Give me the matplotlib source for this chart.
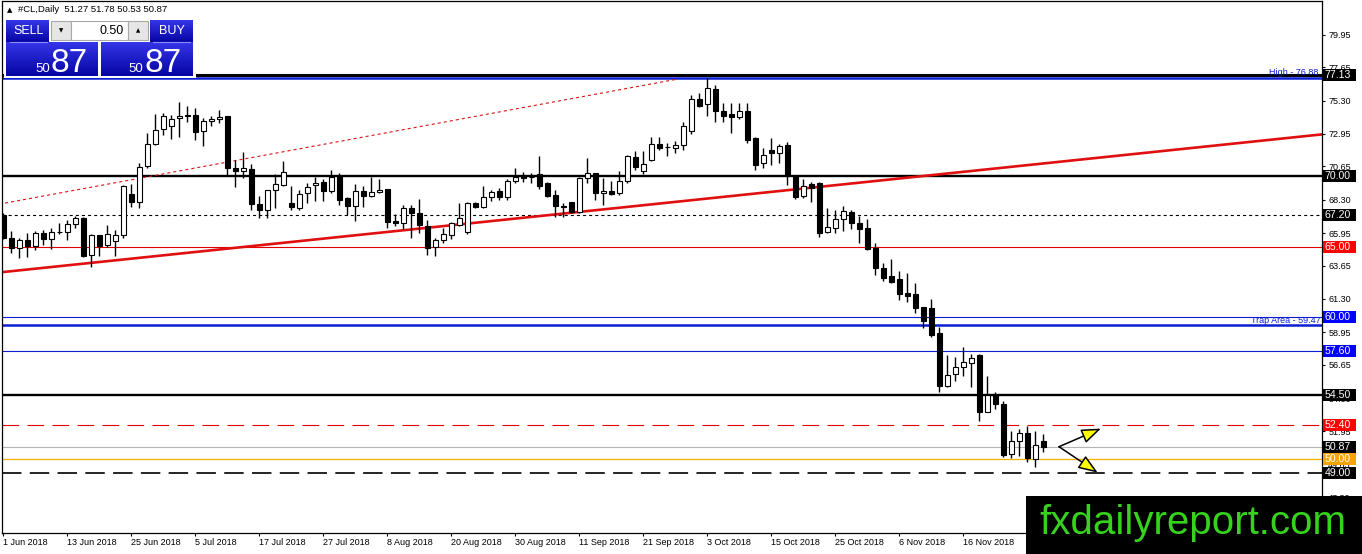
import matplotlib
matplotlib.use("Agg")
import matplotlib.pyplot as plt
import matplotlib.transforms as mtrans
from matplotlib.patches import Rectangle, FancyArrowPatch
from matplotlib.colors import LinearSegmentedColormap
import numpy as np

plt.rcParams['font.family'] = ['Liberation Sans', 'DejaVu Sans']
plt.rcParams['lines.scale_dashes'] = False

# ---------------- data ----------------
opens = [67.25, 65.6, 64.9, 65.48, 65.06, 65.95, 65.53, 66.0, 66.0, 66.59,
         67.01, 64.38, 65.79, 65.13, 65.36, 65.84, 68.71, 68.12, 70.66, 72.24,
         73.29, 73.48, 74.07, 74.3, 74.3, 73.13, 73.84, 74.0, 74.24, 70.54,
         70.31, 70.49, 68.0, 67.55, 68.96, 69.32, 68.07, 67.72, 68.78, 69.32,
         69.58, 68.94, 69.98, 68.4, 67.86, 68.94, 68.59, 68.82, 69.06, 66.8,
         66.68, 67.69, 67.34, 66.45, 64.94, 65.46, 65.81, 66.52, 66.05, 68.1,
         67.81, 68.52, 68.94, 68.47, 69.65, 69.96, 69.93, 70.12, 69.46, 68.63,
         67.84, 68.12, 67.46, 69.81, 70.16, 68.75, 68.92, 68.75, 69.65, 71.3,
         70.35, 71.11, 72.23, 72.0, 71.93, 72.16, 73.17, 75.39, 75.04, 76.11,
         74.59, 74.33, 74.12, 74.59, 72.64, 70.92, 71.81, 71.62, 72.16, 69.97,
         68.57, 69.39, 69.46, 66.05, 66.28, 66.92, 67.46, 66.64, 66.29, 64.87,
         63.46, 62.94, 62.68, 61.7, 61.62, 60.71, 60.68, 58.87, 55.18, 56.0,
         56.53, 56.76, 57.35, 53.35, 54.52, 53.89, 50.35, 51.29, 51.86, 50.0,
         51.27]
highs = [67.35, 66.07, 65.6, 65.95, 66.07, 66.19, 66.3, 66.66, 66.85, 67.18,
         67.06, 65.9, 65.84, 66.49, 66.14, 69.36, 69.41, 70.89, 73.01, 74.35,
         74.42, 74.31, 75.2, 74.9, 74.78, 74.07, 74.19, 74.61, 74.24, 71.13,
         71.65, 70.85, 68.54, 69.01, 70.12, 71.06, 69.25, 69.01, 69.48, 69.91,
         69.76, 70.4, 70.16, 68.52, 69.41, 69.27, 69.93, 69.74, 69.06, 67.29,
         67.93, 67.93, 68.33, 66.87, 65.58, 66.28, 66.75, 68.05, 68.16, 68.16,
         69.27, 68.99, 69.11, 69.74, 70.52, 70.28, 70.16, 71.39, 69.58, 68.99,
         68.05, 68.16, 69.93, 71.22, 70.21, 69.81, 69.65, 70.35, 71.46, 71.77,
         71.75, 72.75, 72.75, 72.33, 72.47, 73.81, 75.7, 75.86, 76.88, 76.4,
         75.16, 75.16, 75.16, 75.11, 72.75, 71.93, 72.63, 72.23, 72.4, 70.05,
         69.74, 69.58, 69.58, 67.69, 67.58, 67.86, 67.58, 67.16, 66.92, 65.27,
         63.86, 64.1, 63.27, 63.11, 62.4, 60.71, 61.27, 59.34, 57.35, 57.2,
         57.94, 57.41, 57.41, 55.88, 54.76, 54.12, 52.0, 52.09, 52.33, 51.95,
         51.78]
lows = [65.5, 64.54, 64.19, 64.26, 64.78, 65.13, 64.82, 65.9, 65.48, 66.3,
        64.26, 63.55, 64.31, 64.96, 64.31, 65.6, 67.76, 67.72, 70.54, 72.14,
        72.89, 72.59, 72.73, 73.8, 72.54, 72.07, 73.53, 73.72, 70.07, 69.2,
        69.84, 67.55, 67.01, 67.01, 67.72, 69.25, 67.55, 67.55, 68.07, 68.19,
        68.19, 68.75, 67.93, 67.22, 66.82, 67.81, 68.47, 68.75, 66.28, 66.45,
        66.21, 65.62, 65.93, 64.4, 64.33, 65.22, 65.51, 66.45, 65.88, 67.69,
        67.74, 68.24, 68.28, 68.28, 69.51, 69.58, 69.51, 69.04, 68.52, 67.1,
        67.1, 67.34, 67.34, 69.46, 68.28, 67.93, 68.63, 68.63, 69.51, 70.4,
        70.1, 71.06, 71.81, 71.4, 71.63, 71.81, 72.94, 74.83, 74.24, 73.82,
        73.82, 73.04, 73.97, 72.33, 70.4, 70.52, 70.76, 70.92, 69.34, 68.33,
        68.4, 68.16, 65.69, 65.93, 65.98, 66.13, 66.21, 65.22, 64.76, 62.99,
        62.59, 62.45, 61.23, 61.11, 60.33, 59.23, 58.64, 54.76, 55.11, 55.53,
        55.88, 55.06, 52.71, 53.35, 53.51, 50.12, 50.05, 50.21, 49.81, 49.46,
        50.53]
closes = [65.6, 64.9, 65.48, 65.01, 65.95, 65.53, 66.02, 66.05, 66.59, 67.01,
          64.31, 65.79, 65.01, 65.88, 65.79, 69.25, 68.12, 70.61, 72.24, 73.25,
          74.19, 74.0, 74.24, 74.2, 73.06, 73.84, 74.0, 74.14, 70.54, 70.31,
          70.54, 68.0, 67.55, 68.96, 69.41, 70.26, 67.79, 68.71, 69.2, 69.48,
          68.95, 69.93, 68.28, 67.86, 68.94, 68.59, 68.82, 68.99, 66.71, 66.64,
          67.69, 67.34, 66.52, 64.87, 65.46, 65.86, 66.64, 66.99, 68.1, 67.76,
          68.47, 68.87, 68.47, 69.65, 69.93, 69.81, 69.91, 69.29, 68.59, 67.86,
          67.81, 67.46, 69.81, 70.21, 68.75, 68.92, 68.68, 69.65, 71.39, 70.64,
          70.8, 72.21, 71.98, 72.05, 72.16, 73.5, 75.39, 74.92, 76.16, 74.59,
          74.24, 74.12, 74.59, 72.52, 70.76, 71.46, 71.62, 72.09, 69.97, 68.47,
          69.27, 69.11, 65.98, 66.4, 66.92, 67.53, 66.64, 66.21, 64.8, 63.46,
          62.76, 62.52, 61.65, 61.53, 60.68, 59.77, 58.76, 55.18, 55.94, 56.49,
          56.84, 57.16, 53.3, 54.52, 53.86, 50.29, 51.29, 51.81, 50.05, 51.0,
          50.87]

date_tick_bars = [0, 8, 16, 24, 32, 40, 48, 56, 64, 72, 80, 88, 96, 104, 112, 120]
date_labels = ["1 Jun 2018", "13 Jun 2018", "25 Jun 2018", "5 Jul 2018",
               "17 Jul 2018", "27 Jul 2018", "8 Aug 2018", "20 Aug 2018",
               "30 Aug 2018", "11 Sep 2018", "21 Sep 2018", "3 Oct 2018",
               "15 Oct 2018", "25 Oct 2018", "6 Nov 2018", "16 Nov 2018"]
price_ticks = [79.95, 77.65, 75.30, 72.95, 70.65, 68.30, 65.95, 63.65,
               61.30, 58.95, 56.65, 54.30, 51.95, 49.65, 47.30]

# horizontal levels
level_values = [77.13, 76.88, 70.00, 67.20, 65.00, 60.00, 59.47, 57.60,
                54.50, 52.40, 50.87, 50.00, 49.00]
tagged_levels = [77.13, 70.00, 67.20, 65.00, 60.00, 57.60, 54.50, 52.40,
                 50.87, 50.00, 49.00]
high_value = 76.88
trap_value = 59.47
header_values = [51.27, 51.78, 50.53, 50.87]
spread_lots = 0.50

# trend lines (bar index, price)
trend_solid = [(0, 63.20), (160, 72.63)]
trend_dotted_x = [-1.0, 84.3]
trend_dotted_y = [67.94, 76.82]
arrow_start = (131.96, 50.87)
arrow_ends = [(137.2, 52.15), (136.8, 49.04)]

# ---------------- styles ----------------
BLUE = '#0a1ed2'
level_styles = {
    77.13: dict(color='black', lw=2.2, ls='-'),
    76.88: dict(color=BLUE, lw=1.8, ls='-'),
    70.00: dict(color='black', lw=1.7, ls='-'),
    67.20: dict(color='black', lw=0.8, ls=(0, (2.2, 2.2))),
    65.00: dict(color='#e00000', lw=0.8, ls='-'),
    60.00: dict(color=BLUE, lw=0.8, ls='-'),
    59.47: dict(color=BLUE, lw=1.8, ls='-'),
    57.60: dict(color=BLUE, lw=0.8, ls='-'),
    54.50: dict(color='black', lw=1.7, ls='-'),
    52.40: dict(color='#e00000', lw=0.8, ls=(0, (12, 6))),
    50.87: dict(color='#b4b4b4', lw=0.8, ls='-'),
    50.00: dict(color='#f0b000', lw=0.9, ls='-'),
    49.00: dict(color='black', lw=1.2, ls=(0, (14, 6))),
}
tag_colors = {77.13: 'black', 70.00: 'black', 67.20: 'black', 65.00: '#ff0000',
              60.00: '#0000ff', 57.60: '#0000ff', 54.50: 'black', 52.40: '#ff0000',
              50.87: 'black', 50.00: '#f5a300', 49.00: 'black'}

W, H = 1362, 554
PX = 14.17  # pixels per price unit
fig = plt.figure(figsize=(W / 100, H / 100), dpi=100)
fig.patch.set_facecolor('white')
ax = fig.add_axes([2 / W, (H - 533) / H, 1320 / W, 532 / H])
ax.set_facecolor('white')

n = len(opens)
xs = np.arange(n)
ax.set_xlim(-0.1625, 164.84)
ax.set_ylim(44.78, 82.33)

# levels
for v in level_values:
    st = level_styles[v]
    ax.axhline(v, color=st['color'], lw=st['lw'], ls=st['ls'], zorder=2)

# trend lines
ax.axline(trend_solid[0], trend_solid[1], color='#e01010', lw=1.9, zorder=2.2)
ax.plot(trend_dotted_x, trend_dotted_y, color='#e01010', lw=0.8,
        ls=(0, (2.2, 2.2)), zorder=2.2)

# candles
for i in range(n):
    o, h, l, c = opens[i], highs[i], lows[i], closes[i]
    ax.vlines(xs[i], l, h, color='black', lw=1.0, zorder=3)
    bot = min(o, c)
    hgt = max(abs(c - o), 0.03)
    fc = 'white' if c > o else 'black'
    ax.add_patch(Rectangle((xs[i] - 0.3, bot), 0.6, hgt, facecolor=fc,
                           edgecolor='black', lw=0.8, zorder=4))

# annotation texts
blend = mtrans.blended_transform_factory(ax.transAxes, ax.transData)
ax.annotate(f"High - {high_value:.2f}", xy=(1316 / 1320, high_value), xycoords=blend,
            xytext=(0, 4), textcoords='offset points', ha='right', va='center',
            fontsize=6.5, color=BLUE, zorder=6)
ax.annotate(f"Trap Area - {trap_value:.2f}", xy=(1319 / 1320, trap_value), xycoords=blend,
            xytext=(0, 3.2), textcoords='offset points', ha='right', va='center',
            fontsize=6.5, color=BLUE, zorder=6)

# arrows
for end in arrow_ends:
    ax.add_patch(FancyArrowPatch(arrow_start, end,
                                 arrowstyle='-|>,head_length=0.85,head_width=0.32',
                                 mutation_scale=14, fc='#ffff00', ec='black',
                                 lw=1.1, shrinkA=0, shrinkB=0, zorder=6))

# axes
for s in ['left', 'bottom', 'right', 'top']:
    ax.spines[s].set_color('black')
    ax.spines[s].set_linewidth(0.9)
ax.yaxis.tick_right()
ax.set_yticks(price_ticks)
ax.set_yticklabels([f"{v:.2f}" for v in price_ticks])
ax.tick_params(axis='y', direction='out', length=2.5, width=0.8, labelsize=6.5,
               pad=2, colors='black')
ax.set_xticks(date_tick_bars)
ax.set_xticklabels(date_labels, ha='left')
ax.tick_params(axis='x', direction='out', length=2.2, width=0.8, labelsize=6.5,
               pad=1.2, colors='black')

# price tags on right axis
for v in tagged_levels:
    ax.add_patch(Rectangle((1.0 + 1 / 1320, v - 6 / PX), 33 / 1320, 12 / PX,
                           transform=blend, facecolor=tag_colors[v], edgecolor='none',
                           clip_on=False, zorder=7))
    ax.text(1.0 + 2.5 / 1320, v, f"{v:.2f}", transform=blend, color='white',
            fontsize=7.6, va='center', ha='left', clip_on=False, zorder=8)

# ---------------- overlay (panel + watermark) ----------------
ov = fig.add_axes([0, 0, 1, 1], zorder=10)
ov.set_xlim(0, W)
ov.set_ylim(H, 0)
ov.axis('off')
ov.patch.set_alpha(0)

ov.text(7, 10, "\u25B2", fontsize=5, va='center', ha='left', color='black',
        family=['DejaVu Sans'])
ov.text(18, 10, "#CL,Daily  " + " ".join(f"{v:.2f}" for v in header_values),
        fontsize=6.8, va='center', ha='left', color='black')

ov.add_patch(Rectangle((4, 18), 192, 60, facecolor='white', edgecolor='none', zorder=1))
bluemap = LinearSegmentedColormap.from_list('b', ['#3535e8', '#0505a4'])
grad = np.linspace(0, 1, 64).reshape(-1, 1)
for (x0, x1, y0, y1) in [(6, 49, 20, 42), (150, 193, 20, 42), (6, 98, 42, 76), (101, 193, 42, 76)]:
    ov.imshow(grad, extent=(x0, x1, y1, y0), cmap=bluemap, aspect='auto', zorder=2,
              interpolation='bilinear')
ov.set_xlim(0, W)
ov.set_ylim(H, 0)
ov.plot([10, 47], [42, 42], color='#8c8cff', lw=0.8, zorder=3)
ov.plot([153, 190], [42, 42], color='#8c8cff', lw=0.8, zorder=3)
ov.add_patch(Rectangle((51, 21), 20, 19, facecolor='#e6e6e6', edgecolor='#a8a8a8', lw=0.8, zorder=3))
ov.add_patch(Rectangle((71, 21), 57, 19, facecolor='white', edgecolor='#a8a8a8', lw=0.8, zorder=3))
ov.add_patch(Rectangle((128, 21), 20, 19, facecolor='#e6e6e6', edgecolor='#a8a8a8', lw=0.8, zorder=3))
ov.text(61, 30.5, "\u25BC", fontsize=4, ha='center', va='center', family=['DejaVu Sans'], zorder=4)
ov.text(138, 30.5, "\u25B2", fontsize=4, ha='center', va='center', family=['DejaVu Sans'], zorder=4)
ov.text(124, 31, f"{spread_lots:.2f}", fontsize=9, ha='right', va='center', color='black', zorder=4)
ov.text(13, 31, "SELL", fontsize=9, ha='left', va='center', color='white', zorder=4)
ov.text(159, 31, "BUY", fontsize=9, ha='left', va='center', color='white', zorder=4)
bid_str = f"{header_values[3]:.2f}"
big_part, small_part = bid_str[-2:], bid_str[:2]
ov.text(35, 72, small_part, fontsize=9.5, ha='left', va='baseline', color='white', zorder=4)
ov.text(51, 72, big_part, fontsize=24, ha='left', va='baseline', color='white', zorder=4)
ov.text(128, 72, small_part, fontsize=9.5, ha='left', va='baseline', color='white', zorder=4)
ov.text(144, 72, big_part, fontsize=24, ha='left', va='baseline', color='white', zorder=4)

# watermark
ov.add_patch(Rectangle((1026, 496), 336, 58, facecolor='black', edgecolor='none', zorder=5))
ov.text(1193, 523, "fxdailyreport.com", fontsize=29, color='#36d21e', ha='center',
        va='center', zorder=6)

fig.savefig('out.png', dpi=100, facecolor='white')
